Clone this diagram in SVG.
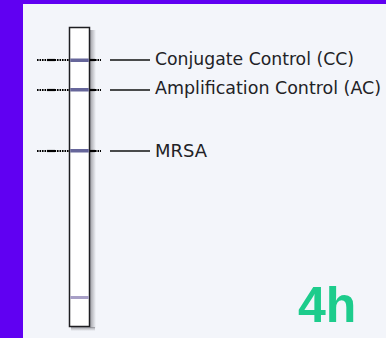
<svg xmlns="http://www.w3.org/2000/svg" width="386" height="338" viewBox="0 0 386 338">
<defs>
<style>
.lbl{font-family:"DejaVu Sans Condensed","Liberation Sans",sans-serif;font-size:17px;fill:#222226}
.dot{stroke:#000;stroke-width:2;stroke-dasharray:1.6 0.9}
.dash{stroke:#000;stroke-width:2.2}
.lead{stroke:#111;stroke-width:1.5}
.band{fill:#66669a}
</style>
<linearGradient id="sh" x1="0" x2="1" y1="0" y2="0">
<stop offset="0" stop-color="#8a8a90" stop-opacity="0.8"/>
<stop offset="1" stop-color="#8a8a90" stop-opacity="0"/>
</linearGradient>
<linearGradient id="shb" x1="0" x2="0" y1="0" y2="1">
<stop offset="0" stop-color="#8a8a90" stop-opacity="0.8"/>
<stop offset="1" stop-color="#8a8a90" stop-opacity="0"/>
</linearGradient>
</defs>
<rect x="0" y="0" width="386" height="338" fill="#6000f2"/>
<rect x="23" y="4" width="363" height="334" fill="#f3f5fa"/>
<g id="strip">
<rect x="90" y="30" width="6" height="298" fill="url(#sh)"/>
<rect x="71" y="327" width="24" height="4" fill="url(#shb)"/>
<rect x="69.5" y="27.5" width="20" height="299" fill="#ffffff" stroke="#1e1e22" stroke-width="1.5"/>
<rect x="70.25" y="58.5" width="18.5" height="3.5" class="band"/>
<rect x="70.25" y="88" width="18.5" height="3.5" class="band"/>
<rect x="70.25" y="149" width="18.5" height="3.5" class="band"/>
<rect x="70.25" y="296" width="18.5" height="3" fill="#a79fc6"/>
</g>
<g id="connectors">
<line x1="37" y1="60" x2="69" y2="60" class="dot"/>
<line x1="47" y1="60" x2="55" y2="60" class="dash"/>
<line x1="90" y1="60" x2="101" y2="60" class="dot"/>
<line x1="90" y1="60" x2="95" y2="60" class="dash"/>
<line x1="110" y1="60" x2="150" y2="60" class="lead"/>
<line x1="37" y1="90" x2="69" y2="90" class="dot"/>
<line x1="47" y1="90" x2="55" y2="90" class="dash"/>
<line x1="90" y1="90" x2="101" y2="90" class="dot"/>
<line x1="90" y1="90" x2="95" y2="90" class="dash"/>
<line x1="110" y1="90" x2="150" y2="90" class="lead"/>
<line x1="37" y1="151" x2="69" y2="151" class="dot"/>
<line x1="47" y1="151" x2="55" y2="151" class="dash"/>
<line x1="90" y1="151" x2="101" y2="151" class="dot"/>
<line x1="90" y1="151" x2="95" y2="151" class="dash"/>
<line x1="110" y1="151" x2="150" y2="151" class="lead"/>
</g>
<g id="label-cc"><text x="155" y="65" class="lbl" textLength="199" lengthAdjust="spacingAndGlyphs">Conjugate Control (CC)</text></g>
<g id="label-ac"><text x="155" y="94" class="lbl" textLength="226" lengthAdjust="spacingAndGlyphs">Amplification Control (AC)</text></g>
<g id="label-mrsa"><text x="155" y="157" class="lbl" textLength="52" lengthAdjust="spacingAndGlyphs">MRSA</text></g>
<g id="time"><text x="298" y="322" font-family="Liberation Sans, Arial, sans-serif" font-weight="bold" font-size="50" fill="#1dcc8c">4h</text></g>
</svg>
